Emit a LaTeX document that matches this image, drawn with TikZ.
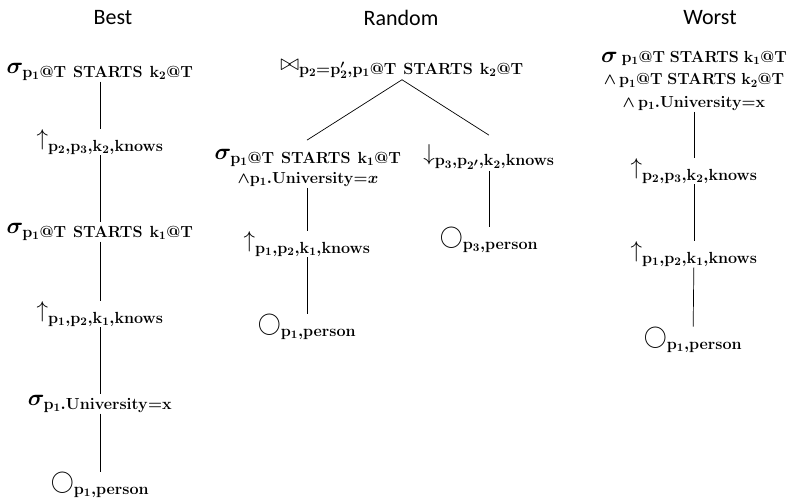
\RequirePackage{fix-cm}
\documentclass[tikz,border=0pt]{standalone}
\usepackage{amsmath}
\usepackage[no-math]{fontspec}
\usepackage{tikz}
\newfontfamily\titlefont{Carlito}
\newcommand{\upop}{\mbox{\unboldmath$\uparrow$}}
\newcommand{\downop}{\mbox{\unboldmath$\downarrow$}}
\newcommand{\scanop}{\mbox{\unboldmath$\bigcirc$}}
\newcommand{\joinop}{\mbox{\unboldmath$\bowtie$}}
\tikzset{
  title/.style={font=\titlefont\fontsize{22}{26}\selectfont},
  op/.style={font=\fontsize{23}{26}\selectfont\boldmath, inner sep=1pt},
  cond/.style={font=\fontsize{16}{22.5}\selectfont\boldmath, inner sep=1pt, align=center},
  edge/.style={line width=0.7pt},
}

\begin{document}
\begin{tikzpicture}[x=1pt,y=-1pt]
  \useasboundingbox (0,0) rectangle (791,502);
  % column titles
  \node[title] (tbest) at (113,18) {Best};
  \node[title] (trand) at (401,18) {Random};
  \node[title] (tworst) at (710,18) {Worst};
  % best plan
  \node[op] (b1) at (100,72) {$\sigma_{\mathrm{p_1@T\ STARTS\ k_2@T}}$};
  \node[op] (b2) at (100,142) {$\upop_{\mathrm{p_2,p_3,k_2,knows}}$};
  \node[op] (b3) at (100,232) {$\sigma_{\mathrm{p_1@T\ STARTS\ k_1@T}}$};
  \node[op] (b4) at (100,314) {$\upop_{\mathrm{p_1,p_2,k_1,knows}}$};
  \node[op] (b5) at (100,404) {$\sigma_{\mathrm{p_1.University{=}x}}$};
  \node[op] (b6) at (100,485) {$\scanop_{\mathrm{p_1,person}}$};
  \draw[edge] (b1) -- (b2);
  \draw[edge] (b2) -- (b3);
  \draw[edge] (b3) -- (b4);
  \draw[edge] (b4) -- (b5);
  \draw[edge] (b5) -- (b6);
  % random plan
  \node[op] (r1) at (402,69) {$\joinop_{\mathrm{p_2{=}p'_2,p_1@T\ STARTS\ k_2@T}}$};
  \node[op, align=center] (r2) at (308,168) {$\sigma_{\mathrm{p_1@T\ STARTS\ k_1@T}}$\\[-2pt]
    {\fontsize{16}{16}\selectfont$\wedge\mathrm{p_1.University{=}}x$}};
  \node[op] (r3) at (489,157) {$\downop_{\mathrm{p_3,p_{2'},k_2,knows}}$};
  \node[op] (r4) at (307,244) {$\upop_{\mathrm{p_1,p_2,k_1,knows}}$};
  \node[op] (r5) at (307,327) {$\scanop_{\mathrm{p_1,person}}$};
  \node[op] (r6) at (489,240) {$\scanop_{\mathrm{p_3,person}}$};
  \draw[edge] (r1.south) -- ([yshift=8pt]r2.north -| r4);
  \draw[edge] (r1.south) -- ([yshift=8pt]r3.north -| r6);
  \draw[edge] (r4 |- r2.south) -- (r4);
  \draw[edge] (r4) -- (r5);
  \draw[edge] (r6 |- r3.south) -- (r6);
  % worst plan
  \node[cond] (w1) at (694,81) {\fontsize{23}{20}\selectfont$\sigma$\,{\fontsize{16}{16}\selectfont$\mathrm{p_1@T\ STARTS\ k_1@T}$}\\
    $\wedge\,\mathrm{p_1@T\ STARTS\ k_2@T}$\\
    $\wedge\,\mathrm{p_1.University{=}x}$};
  \node[op] (w2) at (694,171) {$\upop_{\mathrm{p_2,p_3,k_2,knows}}$};
  \node[op] (w3) at (694,254) {$\upop_{\mathrm{p_1,p_2,k_1,knows}}$};
  \node[op] (w4) at (693,340) {$\scanop_{\mathrm{p_1,person}}$};
  \draw[edge] (w1) -- (w2);
  \draw[edge] (w2) -- (w3);
  \draw[edge] (w3) -- (w4);
\end{tikzpicture}
\end{document}
